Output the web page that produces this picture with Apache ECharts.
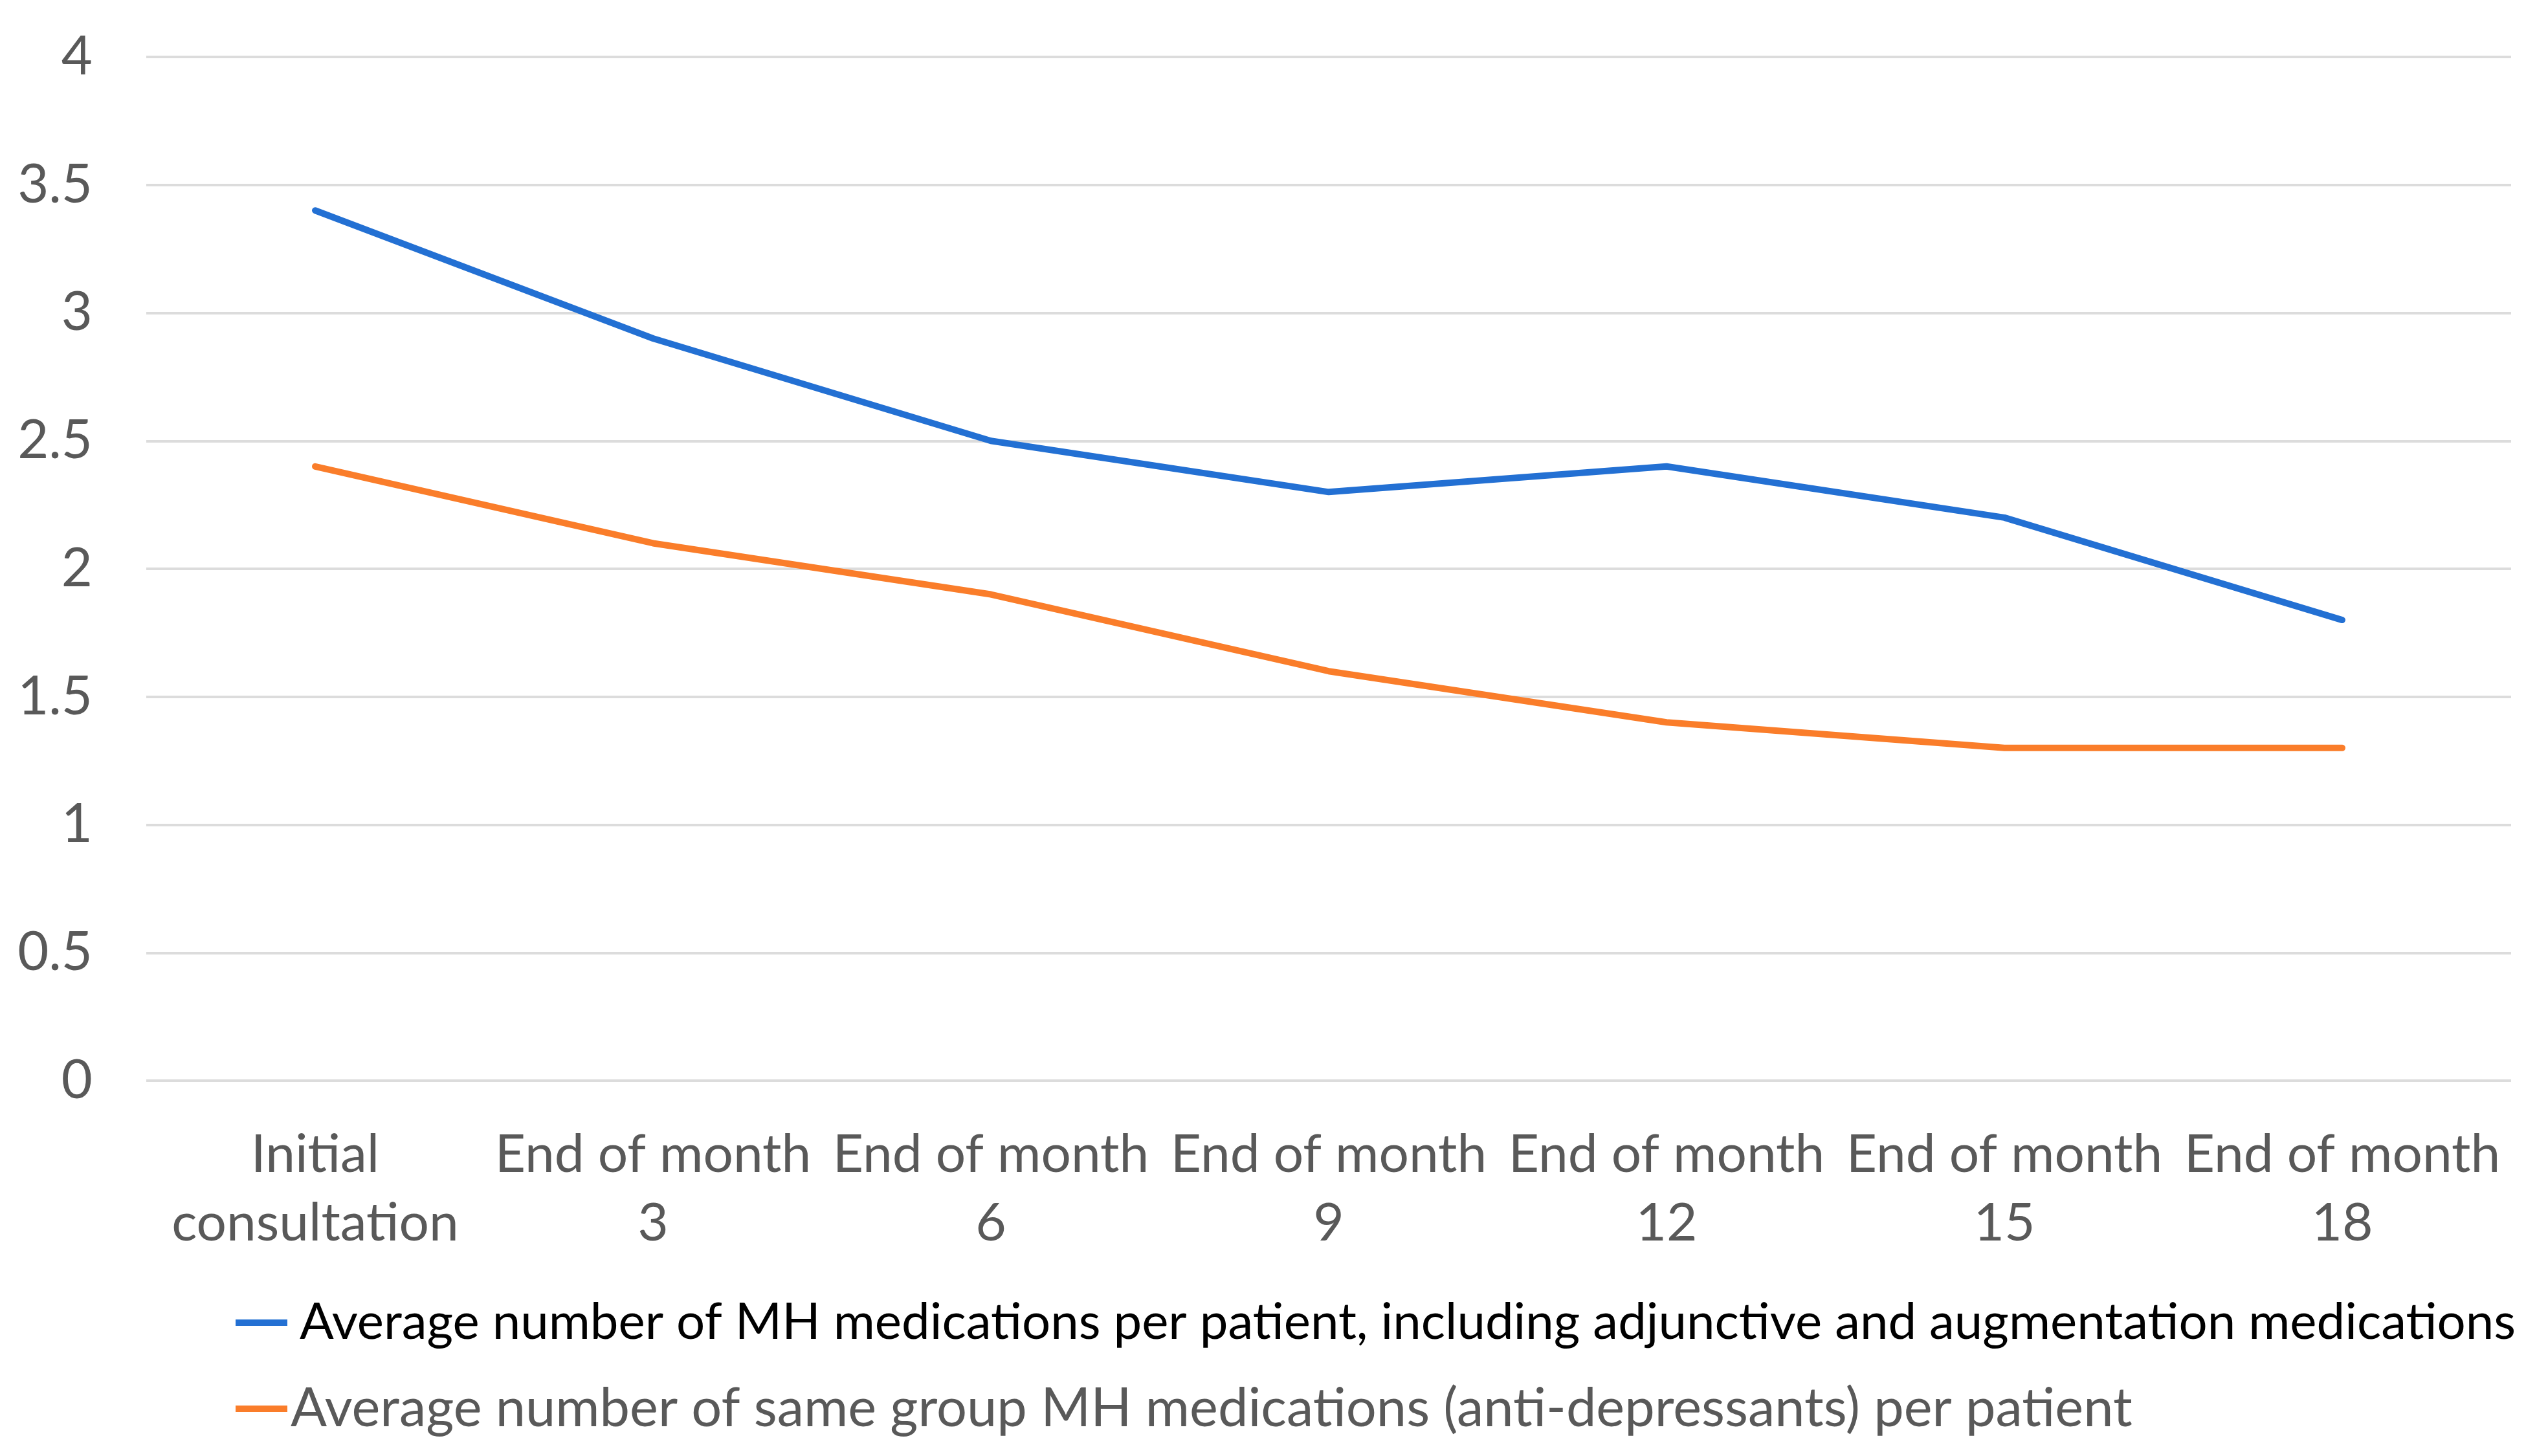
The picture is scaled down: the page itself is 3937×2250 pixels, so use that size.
<!DOCTYPE html>
<html>
<head>
<meta charset="utf-8">
<script src="https://cdn.jsdelivr.net/npm/echarts@6/dist/echarts.min.js"></script>
<style>
html,body{margin:0;padding:0;background:#fff;}
#c{width:3937px;height:2250px;}
</style>
</head>
<body>
<div id="c"></div>
<script>
const categories = ['Initial\nconsultation','End of month\n3','End of month\n6','End of month\n9','End of month\n12','End of month\n15','End of month\n18'];
const seriesNames = [
  'Average number of MH medications per patient, including adjunctive and augmentation medications',
  'Average number of same group MH medications (anti-depressants) per patient'
];
const allMeds = [3.4, 2.9, 2.5, 2.3, 2.4, 2.2, 1.8];
const sameGroupMeds = [2.4, 2.1, 1.9, 1.6, 1.4, 1.3, 1.3];
const yTicks = {min: 0, max: 4, interval: 0.5};

const FONT = 'Lato';
const chart = echarts.init(document.getElementById('c'), null, {renderer: 'canvas'});
chart.setOption({
  backgroundColor: '#ffffff',
  animation: false,
  grid: {left: 226, right: 57, top: 88, bottom: 580, containLabel: false},
  xAxis: {
    type: 'category',
    data: categories,
    boundaryGap: true,
    axisLine: {show: false},
    axisTick: {show: false},
    axisLabel: {color: '#595959', fontFamily: FONT, fontSize: 82, lineHeight: 106, margin: 62, interval: 0}
  },
  yAxis: {
    type: 'value',
    min: yTicks.min, max: yTicks.max, interval: yTicks.interval,
    axisLine: {show: false},
    axisTick: {show: false},
    splitLine: {lineStyle: {color: '#dcdcdc', width: 4}},
    axisLabel: {color: '#595959', fontFamily: FONT, fontSize: 83, margin: 83}
  },
  legend: {
    orient: 'vertical',
    left: 359, top: 1989,
    itemWidth: 80, itemHeight: 10,
    itemGap: 33,
    icon: 'rect',
    textStyle: {color: '#595959', fontFamily: FONT, fontSize: 83, lineHeight: 100, padding: [0,0,0,0]},
    data: [
      {name: seriesNames[0], textStyle: {color: '#000000', fontSize: 78, padding: [0,0,0,14]}},
      {name: seriesNames[1], textStyle: {padding: [0,0,0,0]}}
    ]
  },
  series: [
    {name: seriesNames[0], type: 'line', data: allMeds, symbol: 'none', color: '#2370D3',
     lineStyle: {width: 10, color: '#2370D3', cap: 'round', join: 'round'}},
    {name: seriesNames[1], type: 'line', data: sameGroupMeds, symbol: 'none', color: '#FA7D2A',
     lineStyle: {width: 10, color: '#FA7D2A', cap: 'round', join: 'round'}}
  ]
});
</script>
</body>
</html>
